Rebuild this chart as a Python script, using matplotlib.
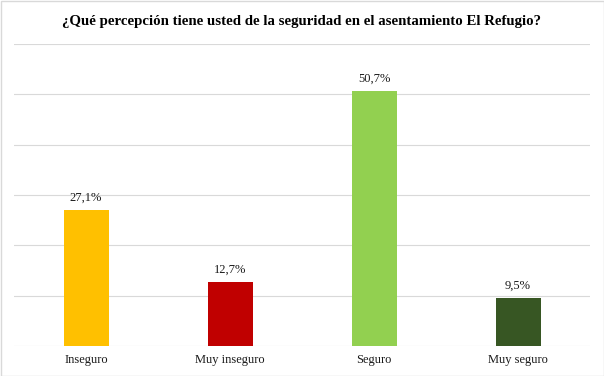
import matplotlib.pyplot as plt
from matplotlib.patches import Rectangle

# datos de la encuesta
categorias = ["Inseguro", "Muy inseguro", "Seguro", "Muy seguro"]
porcentajes = [27.1, 12.7, 50.7, 9.5]
colores = ["#FFC000", "#C00000", "#92D050", "#375623"]
titulo = "¿Qué percepción tiene usted de la seguridad en el asentamiento El Refugio?"

plt.rcParams['font.family'] = ['Liberation Serif', 'DejaVu Serif']

fig = plt.figure(figsize=(6.04, 3.76), dpi=100)
ax = fig.add_axes([14 / 604, 1 - 346 / 376, 576 / 604, 302 / 376])

x = list(range(len(categorias)))
ax.bar(x, porcentajes, width=0.3125, color=colores, zorder=3)

for xi, v in zip(x, porcentajes):
    ax.text(xi, v + 1.8, f"{v:.1f}%".replace(".", ","), ha="center", va="baseline",
            fontsize=9, color="#1a1a1a")

ax.set_xlim(-0.5, len(categorias) - 0.5)
ax.set_ylim(0, 60)
ax.set_yticks(range(0, 61, 10))
ax.yaxis.grid(True, color="#d9d9d9", linewidth=0.8, zorder=0)
ax.tick_params(axis="y", left=False, labelleft=False)
ax.tick_params(axis="x", length=0, pad=6, labelsize=9, labelcolor="#1a1a1a")
ax.set_xticks(x)
ax.set_xticklabels(categorias)
for s in ax.spines.values():
    s.set_visible(False)

fig.text(0.5, 1 - 22 / 376, titulo, ha="center", va="center",
         fontsize=10.7, fontweight="bold", color="#000000")

# borde del gráfico
fig.patches.append(Rectangle((0.5 / 604, 0.5 / 376), 1 - 1 / 604, 1 - 1 / 376,
                             transform=fig.transFigure, fill=False,
                             edgecolor="#d9d9d9", linewidth=1))

fig.savefig("out.png", dpi=100)
